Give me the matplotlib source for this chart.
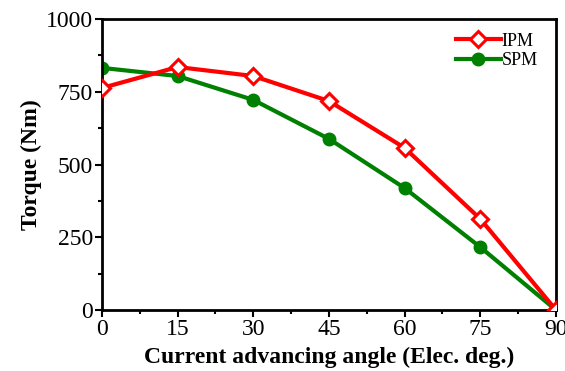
import matplotlib.pyplot as plt
from matplotlib.ticker import MultipleLocator

# Drehmoment ueber Stromvoreilwinkel
angle = [0, 15, 30, 45, 60, 75, 90]
torque_ipm = [763, 835, 804, 718, 557, 313, 0]
torque_spm = [832, 804, 722, 588, 419, 216, 0]

plt.rcParams['font.family'] = ['Liberation Serif', 'DejaVu Serif']

fig = plt.figure(figsize=(5.65, 3.71), dpi=100)
ax = fig.add_axes([0.1805, 0.1644, 0.8035, 0.7844])

ax.plot(angle, torque_ipm, color='#ff0000', lw=3, marker='D', ms=8,
        mfc='white', mec='#ff0000', mew=2.2, label='IPM', zorder=3)
ax.plot(angle, torque_spm, color='#008000', lw=3, marker='o', ms=9,
        mfc='#008000', mec='#008000', label='SPM', zorder=2)

ax.set_xlim(0, 90)
ax.set_ylim(0, 1000)
ax.xaxis.set_major_locator(MultipleLocator(15))
ax.xaxis.set_minor_locator(MultipleLocator(7.5))
ax.yaxis.set_major_locator(MultipleLocator(250))
ax.yaxis.set_minor_locator(MultipleLocator(125))
ax.tick_params(which='both', direction='out', width=1.5, labelsize=17)
ax.tick_params(which='major', length=5, pad=1.5)
ax.tick_params(which='minor', length=3)
for sp in ax.spines.values():
    sp.set_linewidth(2)

ax.set_xlabel('Current advancing angle (Elec. deg.)', fontsize=17, fontweight='bold', labelpad=5)
ax.set_ylabel('Torque (Nm)', fontsize=17, fontweight='bold', labelpad=3)

ax.legend(loc='upper right', frameon=False, fontsize=13, handlelength=2.5,
          handletextpad=0.05, labelspacing=0.15, borderaxespad=0.35,
          bbox_to_anchor=(0.99, 1.0))

fig.savefig('out.png', dpi=100)
